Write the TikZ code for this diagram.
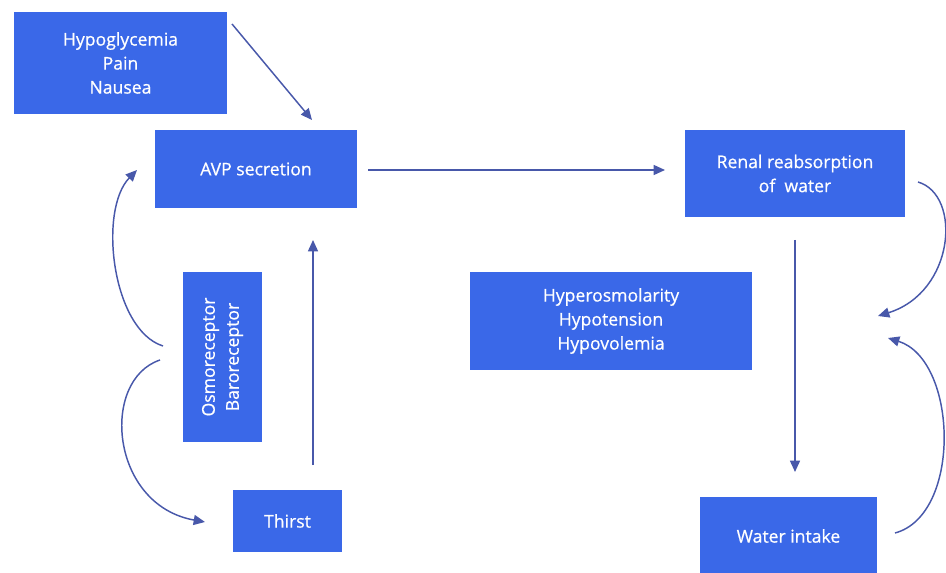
\documentclass[tikz,border=0pt]{standalone}
\usepackage{fontspec}
\setmainfont{Open Sans}
\newfontfamily\boxfont{Open Sans}[FakeBold=0.6]
\usetikzlibrary{arrows.meta}
\definecolor{boxblue}{RGB}{58,104,232}
\definecolor{arrowblue}{RGB}{72,88,170}
\begin{document}
\begin{tikzpicture}[x=0.75pt,y=-0.75pt,
  blbox/.style={fill=boxblue,draw=none,text=white,align=center,inner sep=0pt,
    font=\boxfont\fontsize{13.2}{18}\selectfont},
  conn/.style={draw=arrowblue,line width=1.1pt,-{Triangle[width=7.5pt,length=8.5pt]}}]
\useasboundingbox (0,0) rectangle (946,573);
\node[blbox,minimum width=159.75pt,minimum height=76.5pt] (hypo) at (120.5,63) {Hypoglycemia\\Pain\\Nausea};
\node[blbox,minimum width=151.5pt,minimum height=58.5pt] (avp) at (256,169) {AVP secretion};
\node[blbox,minimum width=165pt,minimum height=65.25pt] (renal) at (795,173.5) {Renal reabsorption\\of\ \ water};
\node[blbox,minimum width=211.5pt,minimum height=73.5pt] (hyper) at (611,321) {Hyperosmolarity\\Hypotension\\Hypovolemia};
\node[blbox,minimum width=127.5pt,minimum height=59.25pt,rotate=90] (osmo) at (222.5,357) {Osmoreceptor\\Baroreceptor};
\node[blbox,minimum width=81.75pt,minimum height=46.5pt] (thirst) at (287.5,521) {Thirst};
\node[blbox,minimum width=132.75pt,minimum height=58.5pt] (water) at (788.5,536) {Water intake};

\coordinate (h1) at (232,24); \coordinate (a1) at (312,120);
\draw[conn] (h1) -- (a1);
\coordinate (a2) at (368,170); \coordinate (r1) at (665,170);
\draw[conn] (a2) -- (r1);
\coordinate (r2) at (795,240); \coordinate (w1) at (795,472);
\draw[conn] (r2) -- (w1);
\coordinate (t1) at (313,465); \coordinate (a3) at (313,240);
\draw[conn] (t1) -- (a3);
\coordinate (o1) at (163,346); \coordinate (a4) at (137,170);
\draw[conn] (o1) .. controls (112,330) and (98,210) .. (a4);
\coordinate (o2) at (160,360); \coordinate (t2) at (205,522);
\draw[conn] (o2) .. controls (100,380) and (110,505) .. (t2);
\coordinate (r3) at (918,182); \coordinate (x1) at (878,316);
\draw[conn] (r3) .. controls (962,195) and (955,292) .. (x1);
\coordinate (w2) at (895,533); \coordinate (x2) at (888,338);
\draw[conn] (w2) .. controls (962,515) and (958,360) .. (x2);
\end{tikzpicture}
\end{document}
